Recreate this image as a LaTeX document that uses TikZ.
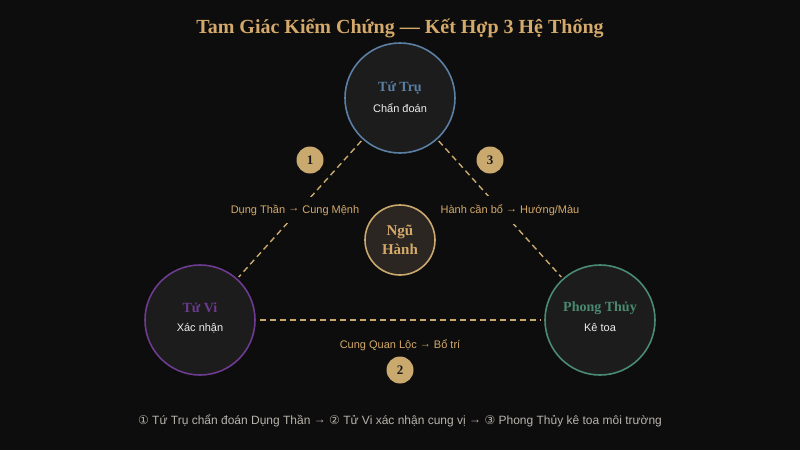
\documentclass[tikz,border=0pt]{standalone}
\usepackage{fontspec}
\setmainfont{Liberation Serif}
\setsansfont{Liberation Sans}
\newfontfamily\dejavu{DejaVu Sans}
\newcommand{\rar}{\raisebox{1.2pt}{→}}
\definecolor{bgc}{HTML}{0D0D0D}
\definecolor{cfill}{HTML}{1C1C1C}
\definecolor{gold}{HTML}{D4A96A}
\definecolor{dashc}{HTML}{C9A96E}
\definecolor{badge}{HTML}{C9A96E}
\definecolor{tutruc}{HTML}{5B7FA3}
\definecolor{tuvic}{HTML}{6C3A8E}
\definecolor{phongc}{HTML}{4A8A72}
\definecolor{nguf}{HTML}{2B2621}
\definecolor{footc}{HTML}{B8B3AB}
\tikzset{
  bigcirc/.style={circle, minimum size=110pt, inner sep=0pt, fill=cfill, line width=1.6pt},
  ttl/.style={font=\fontsize{14}{16}\selectfont\rmfamily\bfseries, inner sep=0pt},
  sub/.style={font=\fontsize{11}{13}\selectfont\sffamily, text=white!93!black, inner sep=0pt},
  dashline/.style={draw=dashc, line width=1.4pt, dash pattern=on 6pt off 4pt, shorten <=2pt, shorten >=2pt},
  edgelbl/.style={font=\fontsize{11}{13}\selectfont\sffamily, text=gold, fill=bgc, inner xsep=3pt, inner ysep=8pt},
  badgec/.style={circle, fill=badge, minimum size=27pt, inner sep=0pt, font=\fontsize{13}{15}\selectfont\rmfamily\bfseries, text=black!90}
}
\begin{document}
\begin{tikzpicture}[x=1pt,y=-1pt]
\fill[bgc] (0,0) rectangle (800,450);
\useasboundingbox (0,0) rectangle (800,450);
\node[font=\fontsize{20}{24}\selectfont\rmfamily\bfseries, text=gold] (title) at (400,28) {Tam Giác Kiểm Chứng — Kết Hợp 3 Hệ Thống};

\node[bigcirc, draw=tutruc] (tutru) at (400,98) {};
\node[bigcirc, draw=tuvic] (tuvi) at (200,320) {};
\node[bigcirc, draw=phongc] (phong) at (600,320) {};
\node[circle, minimum size=70pt, inner sep=0pt, fill=nguf, draw=dashc, line width=1.6pt] (ngu) at (400,240) {};

\draw[dashline] (tutru) -- (tuvi);
\draw[dashline] (tutru) -- (phong);
\draw[dashline, shorten <=4pt, shorten >=4pt] (tuvi) -- (phong);

\node[edgelbl] (l1) at (295,210) {Dụng Thần \rar{} Cung Mệnh};
\node[edgelbl] (l3) at (510,210) {Hành cần bổ \rar{} Hướng/Màu};
\node[font=\fontsize{11}{13}\selectfont\sffamily, text=gold] (l2) at (400,345) {Cung Quan Lộc \rar{} Bổ trí};

\node[badgec] (b1) at (310,160) {1};
\node[badgec] (b3) at (490,160) {3};
\node[badgec] (b2) at (400,370) {2};

\node[ttl, text=tutruc] (t1) at (400,88) {Tứ Trụ};
\node[sub] (s1) at (400,108) {Chẩn đoán};
\node[ttl, text=tuvic] (t2) at (200,308) {Tử Vi};
\node[sub] (s2) at (200,328) {Xác nhận};
\node[ttl, text=phongc] (t3) at (600,308) {Phong Thủy};
\node[sub] (s3) at (600,328) {Kê toa};
\node[font=\fontsize{15}{19}\selectfont\rmfamily\bfseries, text=gold, align=center, inner sep=0pt] (nt) at (400,240) {Ngũ\\Hành};

\node[font=\fontsize{12}{14}\selectfont\sffamily, text=footc] (foot) at (400,421) {{\dejavu ①} Tứ Trụ chẩn đoán Dụng Thần \rar{} {\dejavu ②} Tử Vi xác nhận cung vị \rar{} {\dejavu ③} Phong Thủy kê toa môi trường};
\end{tikzpicture}
\end{document}
